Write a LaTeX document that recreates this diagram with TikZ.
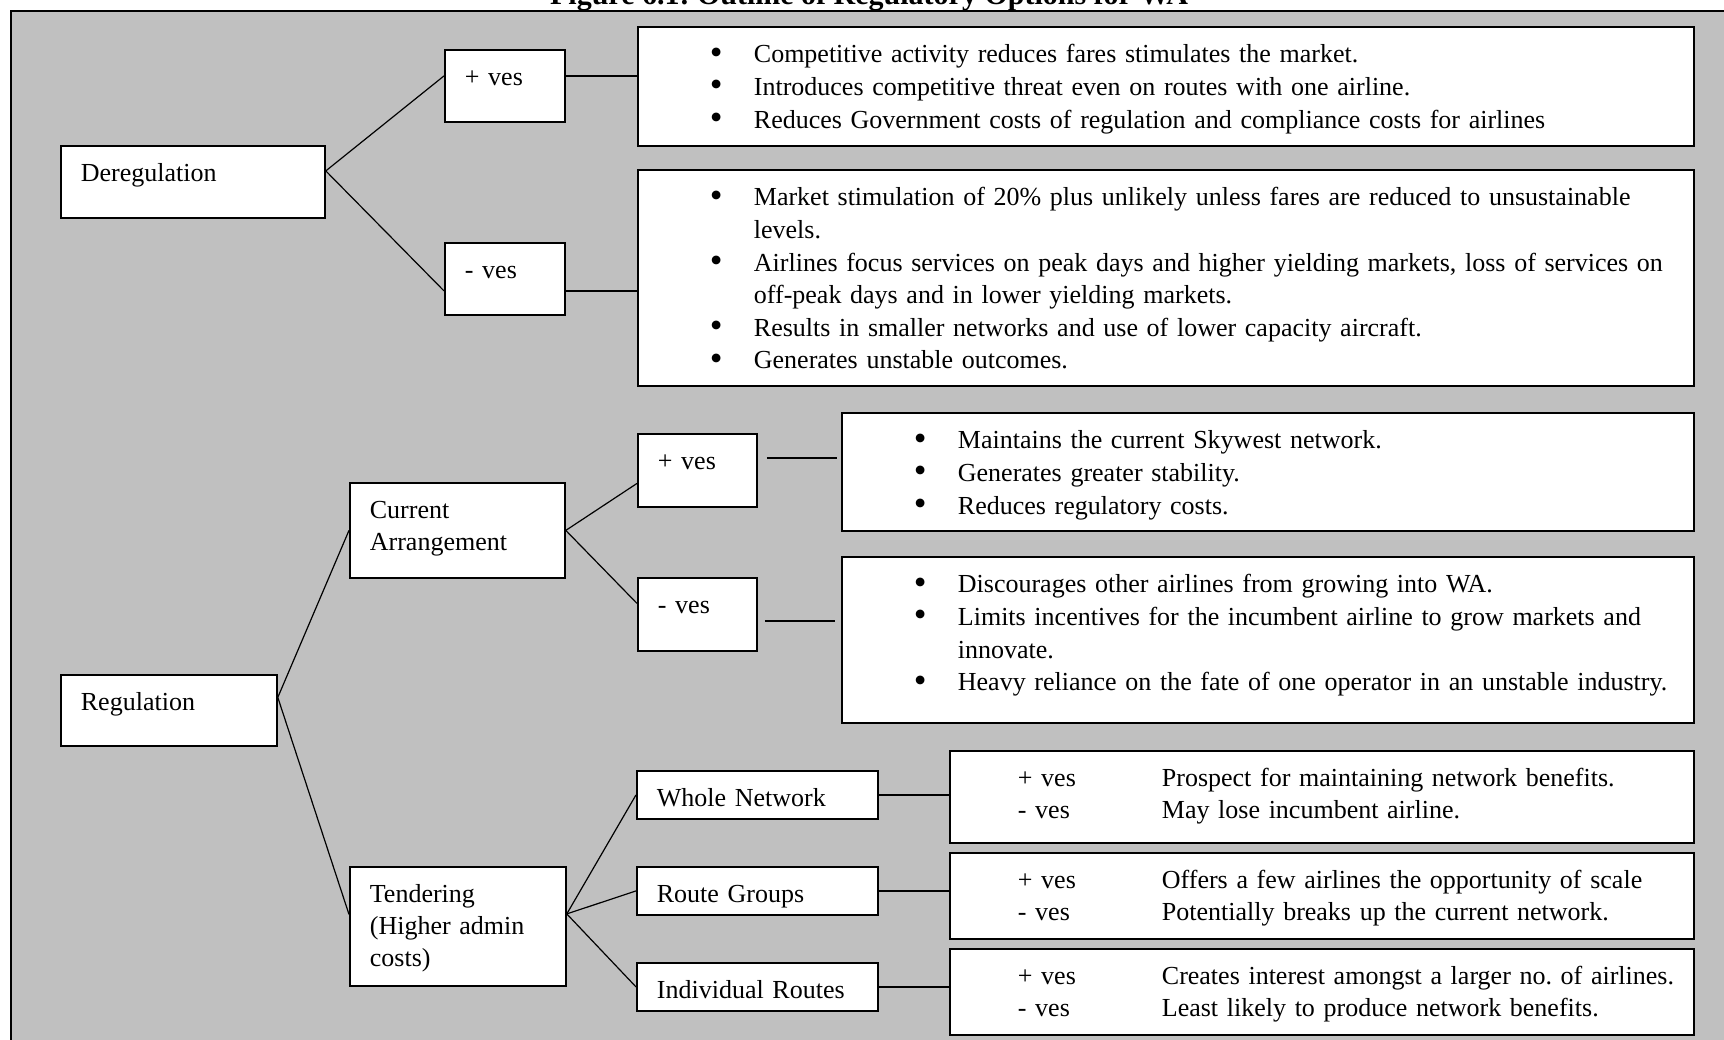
\documentclass[tikz,border=0pt]{standalone}
\usepackage{fontspec}
\setmainfont{Liberation Serif}
\usepackage{tikz}
\usetikzlibrary{positioning}
\definecolor{panel}{RGB}{192,192,192}
\frenchspacing
\newcommand{\bitem}[1]{\hangindent=48pt\hangafter=1\noindent\makebox[48pt][l]{\hspace{26pt}\raisebox{-0.7pt}{\scalebox{1.4}{\textbullet}}}#1\par}
\newcommand{\vesline}[2]{\noindent\hspace*{24pt}\makebox[72pt][l]{#1}\mbox{#2}\par}

\begin{document}
\begin{tikzpicture}[x=0.5pt,y=-0.5pt]
	\tikzstyle{box}=[draw,line width=0.9pt,fill=white,anchor=north west,inner xsep=10pt,inner ysep=0pt,align=left,text height=18pt,font=\fontsize{13}{16}\selectfont]
	\tikzstyle{list}=[box,font=\fontsize{13}{16.3}\selectfont]
	\tikzstyle{link}=[line width=0.6pt]
	\useasboundingbox (0,0) rectangle (1724,1039);
	\draw[fill=panel,line width=0.9pt] (11,11) rectangle (1740,1060);
	\node[font=\bfseries\fontsize{15}{17}\selectfont,anchor=base] (title) at (869,4) {Figure 6.1: Outline of Regulatory Options for WA};
	% deregulation branch
		\node[box,text width=112pt,text depth=18pt] (dereg) at (60,145) {Deregulation};
		\node[box,text width=40pt,text depth=18pt] (posD) at (444,49) {+ ves};
		\node[box,text width=40pt,text depth=18pt] (negD) at (444,242) {- ves};
		\node[list,text width=508pt,text depth=41.5pt] (prosD) at (637,26) {%
			\bitem{Competitive activity reduces fares stimulates the market.}%
			\bitem{Introduces competitive threat even on routes with one airline.}%
			\bitem{Reduces Government costs of regulation and compliance costs for airlines}};
		\node[list,text width=508pt,text depth=90pt] (consD) at (637,169) {%
			\bitem{Market stimulation of 20\% plus unlikely unless fares are reduced to unsustainable\newline levels.}%
			\bitem{Airlines focus services on peak days and higher yielding markets, loss of services on\newline off-peak days and in lower yielding markets.}%
			\bitem{Results in smaller networks and use of lower capacity aircraft.}%
			\bitem{Generates unstable outcomes.}};
			\draw[link] ([yshift=5.5pt]dereg.east) -- ([yshift=5pt]posD.west);
			\draw[link] ([yshift=5.5pt]dereg.east) -- ([yshift=-6pt]negD.west);
			\draw[link] ([yshift=5pt]posD.east) -- ([yshift=5.25pt]prosD.west);
			\draw[link] ([yshift=-6pt]negD.east) -- ([yshift=-6.5pt]consD.west);
	% regulation branch
		\node[box,text width=88pt,text depth=17.5pt] (reg) at (60,674) {Regulation};
		\node[box,text width=87.5pt,text depth=29.5pt] (cur) at (349,482) {Current\\Arrangement};
		\node[box,text width=88pt,text depth=41.5pt] (tend) at (349,866) {Tendering\\(Higher admin\\costs)};
		\node[box,text width=39.5pt,text depth=18.5pt] (posC) at (637,433) {+ ves};
		\node[box,text width=39.5pt,text depth=18.5pt] (negC) at (637,577) {- ves};
		\node[list,text width=406pt,text depth=41pt] (prosC) at (841,412) {%
			\bitem{Maintains the current Skywest network.}%
			\bitem{Generates greater stability.}%
			\bitem{Reduces regulatory costs.}};
		\node[list,text width=406pt,text depth=65pt] (consC) at (841,556) {%
			\bitem{Discourages other airlines from growing into WA.}%
			\bitem{Limits incentives for the incumbent airline to grow markets and\newline innovate.}%
			\bitem{Heavy reliance on the fate of one operator in an unstable industry.}};
		\node[box,text width=100.5pt,text depth=6pt] (whole) at (636,770) {Whole Network};
		\node[box,text width=100.5pt,text depth=6pt] (groups) at (636,866) {Route Groups};
		\node[box,text width=100.5pt,text depth=6pt] (single) at (636,962) {Individual Routes};
		\node[box,text width=352pt,text depth=28pt] (ret1) at (949,750) {%
			\vesline{+ ves}{Prospect for maintaining network benefits.}%
			\vesline{- ves}{May lose incumbent airline.}};
		\node[box,text width=352pt,text depth=25pt] (ret2) at (949,852) {%
			\vesline{+ ves}{Offers a few airlines the opportunity of scale}%
			\vesline{- ves}{Potentially breaks up the current network.}};
		\node[box,text width=352pt,text depth=25pt] (ret3) at (949,948) {%
			\vesline{+ ves}{Creates interest amongst a larger no. of airlines.}%
			\vesline{- ves}{Least likely to produce network benefits.}};
			\draw[link] ([yshift=6.5pt]reg.east) -- (cur.west);
			\draw[link] ([yshift=6.5pt]reg.east) -- ([yshift=6pt]tend.west);
			\draw[link] (cur.east) -- ([yshift=-6.5pt]posC.west);
			\draw[link] (cur.east) -- ([yshift=5.5pt]negC.west);
			\draw[link,shorten <=4.5pt,shorten >=2pt] ([yshift=6.25pt]posC.east) -- ([yshift=7pt]prosC.west);
			\draw[link,shorten <=3.5pt,shorten >=3pt] ([yshift=-3.25pt]negC.east) -- ([yshift=9.5pt]consC.west);
			\draw[link] ([yshift=6.25pt]tend.east) -- (whole.west);
			\draw[link] ([yshift=6.25pt]tend.east) -- (groups.west);
			\draw[link] ([yshift=6.25pt]tend.east) -- (single.west);
			\draw[link] (whole.east) -- ([yshift=1pt]ret1.west);
			\draw[link] (groups.east) -- ([yshift=2.5pt]ret2.west);
			\draw[link] (single.east) -- ([yshift=2.5pt]ret3.west);
\end{tikzpicture}
\end{document}
